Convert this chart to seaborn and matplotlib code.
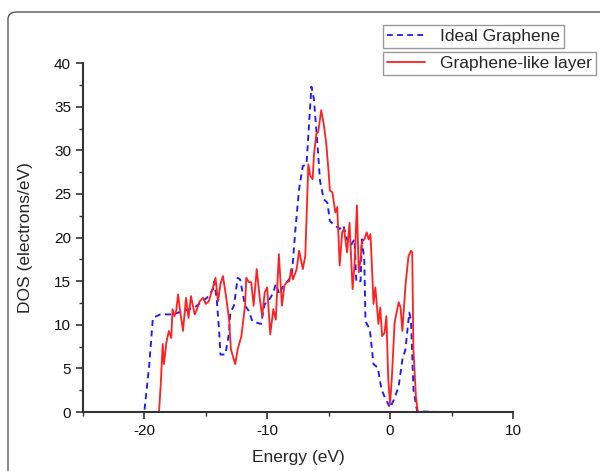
import pandas as pd
import seaborn as sns
import matplotlib
matplotlib.use("Agg")
from matplotlib import pyplot as plt
from matplotlib.patches import FancyBboxPatch
from matplotlib.lines import Line2D
from matplotlib.ticker import MultipleLocator

# ideal graphene DOS
ideal_energy = [-21.5, -20.0, -19.6, -19.3, -18.7, -17.7, -16.8, -15.9, -14.9, -14.4,
                -14.3, -14.1, -13.9, -13.8, -13.4, -13.1, -13.0, -12.7, -12.4, -12.2,
                -11.8, -11.5, -11.2, -10.5, -10.2, -9.9, -9.5, -9.3, -9.0, -8.7,
                -8.4, -8.0, -7.7, -7.4, -7.1, -6.8, -6.55, -6.4, -6.2, -5.9,
                -5.7, -5.4, -5.1, -4.9, -4.5, -4.1, -3.8, -3.5, -3.2, -2.9,
                -2.75, -2.4, -2.3, -2.1, -2.0, -1.65, -1.35, -1.0, -0.7, -0.4,
                0.0, 0.37, 0.7, 1.0, 1.25, 1.56, 1.7, 1.9, 2.2, 4.1]
ideal_dos = [0.0, 0.0, 5.3, 10.8, 11.2, 11.2, 11.6, 12.0, 13.1, 14.1,
             15.0, 12.9, 9.1, 6.6, 6.6, 9.1, 11.4, 12.2, 15.4, 15.2,
             12.2, 11.6, 10.4, 10.1, 12.4, 12.7, 13.7, 14.7, 13.5, 14.5,
             14.9, 15.6, 21.0, 25.6, 28.2, 28.4, 34.0, 37.3, 35.9, 30.5,
             26.5, 24.4, 24.0, 21.9, 21.4, 21.0, 21.4, 19.8, 19.1, 19.8,
             14.9, 15.0, 19.8, 17.5, 10.4, 9.5, 5.5, 5.1, 2.6, 1.6,
             0.5, 1.6, 3.0, 6.0, 7.2, 11.4, 10.6, 2.6, 0.1, 0.0]

# graphene-like layer DOS
layer_energy = [-21.2, -18.8, -18.65, -18.5, -18.4, -18.2, -18.0, -17.8, -17.7, -17.55,
                -17.4, -17.25, -17.1, -16.85, -16.6, -16.4, -16.2, -15.9, -15.7, -15.5,
                -15.2, -15.0, -14.75, -14.45, -14.2, -14.0, -13.8, -13.6, -13.35, -13.1,
                -12.95, -12.6, -12.4, -12.1, -11.8, -11.7, -11.5, -11.3, -11.1, -10.85,
                -10.6, -10.4, -10.2, -10.0, -9.75, -9.5, -9.3, -9.05, -8.8, -8.6,
                -8.4, -8.2, -8.05, -7.9, -7.6, -7.4, -7.1, -6.9, -6.65, -6.5,
                -6.3, -6.2, -6.0, -5.85, -5.6, -5.4, -5.2, -5.0, -4.9, -4.7,
                -4.45, -4.3, -4.1, -3.9, -3.75, -3.5, -3.3, -3.05, -2.9, -2.7,
                -2.55, -2.4, -2.3, -2.1, -1.9, -1.75, -1.6, -1.5, -1.35, -1.2,
                -0.95, -0.8, -0.65, -0.45, -0.3, -0.15, 0.0, 0.15, 0.37, 0.7,
                0.85, 1.0, 1.25, 1.5, 1.7, 1.8, 1.9, 2.1, 2.25, 4.0]
layer_dos = [0.0, 0.0, 3.4, 7.8, 5.5, 8.0, 9.3, 8.5, 11.8, 11.0,
             11.6, 13.5, 11.8, 9.3, 13.1, 10.8, 13.3, 11.2, 11.8, 12.7,
             13.1, 12.4, 12.7, 14.1, 15.4, 12.7, 14.7, 15.6, 13.3, 10.6,
             7.2, 5.5, 7.2, 8.7, 12.2, 15.4, 14.9, 14.9, 12.2, 16.4,
             13.0, 11.0, 13.7, 14.3, 8.9, 11.8, 10.6, 18.1, 12.2, 14.5,
             14.9, 15.0, 16.4, 15.2, 16.4, 18.5, 16.4, 17.9, 28.4, 27.1,
             26.7, 29.4, 31.9, 32.1, 34.6, 33.0, 30.9, 27.5, 25.4, 25.2,
             22.9, 23.5, 16.8, 20.6, 21.0, 18.3, 21.7, 14.1, 16.8, 23.7,
             16.0, 17.5, 19.5, 19.8, 20.6, 19.8, 20.4, 17.5, 12.4, 14.3,
             10.1, 12.0, 8.7, 9.1, 11.0, 3.8, 0.9, 4.1, 10.3, 12.6,
             12.0, 9.3, 14.5, 17.9, 18.5, 18.3, 7.2, 1.8, 0.0, 0.0]

series_names = ["Ideal Graphene", "Graphene-like layer"]

sns.set_style("white")
plt.rcParams["font.family"] = ["Liberation Sans", "DejaVu Sans"]
plt.rcParams["axes.unicode_minus"] = False

fig = plt.figure(figsize=(6.0, 4.71), dpi=100)
ax = fig.add_axes([0.138, 0.125, 0.717, 0.741])

# outer rounded frame
frame = FancyBboxPatch((8 / 600, -0.2), 1.2, 1 - 12 / 471 + 0.2,
                       boxstyle="round,pad=0,rounding_size=0.015",
                       transform=fig.transFigure, fill=False,
                       edgecolor="#555555", linewidth=1.0, zorder=-5)
fig.patches.append(frame)

blue = "#1a1aff"
red = "#ff2020"
dash = (0, (3.2, 2.4))
sns.lineplot(x=ideal_energy, y=ideal_dos, ax=ax, sort=False, color=blue,
             linewidth=1.35, linestyle=dash)
sns.lineplot(x=layer_energy, y=layer_dos, ax=ax, sort=False, color=red,
             linewidth=1.3)

ax.set_xlim(-25, 10)
ax.set_ylim(0, 40)
ax.set_xticks([-20, -10, 0, 10])
ax.xaxis.set_minor_locator(MultipleLocator(5))
ax.yaxis.set_major_locator(MultipleLocator(5))
ax.yaxis.set_minor_locator(MultipleLocator(2.5))
ax.tick_params(which="major", direction="out", length=5, width=1.2,
               labelsize=11, color="#333333", labelcolor="#111111",
               left=True, bottom=True)
ax.tick_params(which="minor", direction="out", length=3, width=1.0,
               color="#333333", left=True, bottom=True)
for side in ["top", "right"]:
    ax.spines[side].set_visible(False)
for side in ["left", "bottom"]:
    ax.spines[side].set_color("#333333")
    ax.spines[side].set_linewidth(1.5)

ax.set_xlabel("Energy (eV)", fontsize=12.5, labelpad=9)
ax.set_ylabel("DOS (electrons/eV)", fontsize=12.5, labelpad=15)

# two separately framed legend entries
h1 = Line2D([], [], color=blue, linewidth=1.3, linestyle=dash)
h2 = Line2D([], [], color=red, linewidth=1.3)
leg_kw = dict(loc="upper left", fontsize=12.5, frameon=True, fancybox=False,
              edgecolor="#808080", handlelength=2.2, handletextpad=0.9,
              borderpad=0.22, borderaxespad=0, bbox_transform=fig.transFigure)
leg1 = ax.legend([h1], [series_names[0]], bbox_to_anchor=(0.638, 0.947), **leg_kw)
leg1.get_frame().set_linewidth(1.0)
ax.add_artist(leg1)
leg2 = ax.legend([h2], [series_names[1]], bbox_to_anchor=(0.638, 0.890), **leg_kw)
leg2.get_frame().set_linewidth(1.0)

fig.savefig("out.png", dpi=100)
